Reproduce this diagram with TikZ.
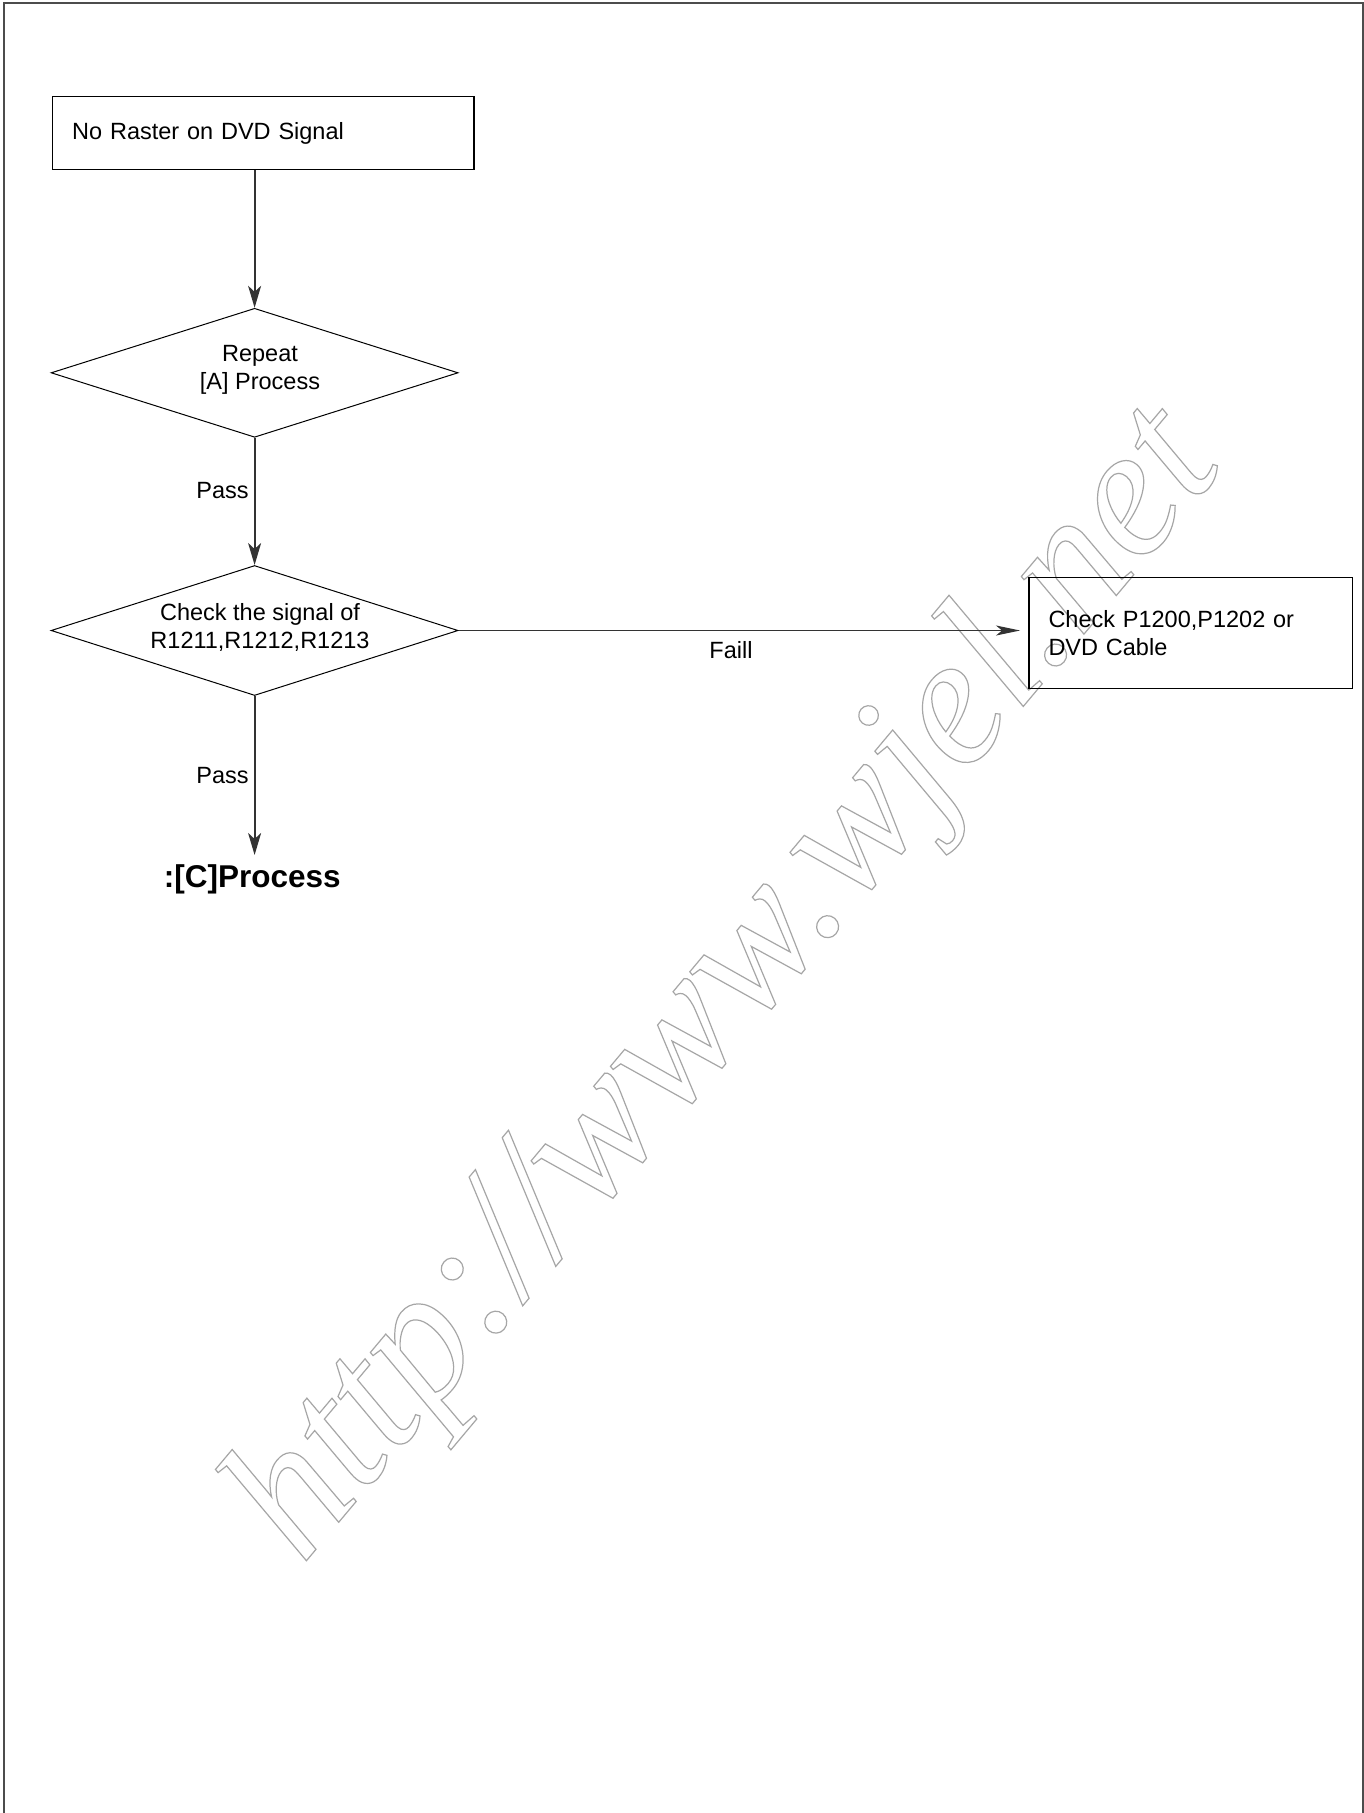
\documentclass[tikz,border=0pt]{standalone}
\usepackage{fontspec}
\setmainfont{Liberation Sans}
\newfontfamily\wmfont{Liberation Serif}
\usetikzlibrary{shapes.geometric,arrows.meta}
\newcommand\dtxt{\fontsize{23.5}{28}\selectfont}
\begin{document}
\begin{tikzpicture}[x=1pt,y=-1pt,
  box/.style={draw=black, line width=1.3pt, rectangle, inner xsep=19.5pt, inner ysep=0pt, align=left, font=\dtxt},
  dia/.style={draw=black, line width=1pt, diamond, inner sep=0pt},
  arr/.style={draw=black!80, line width=1.8pt, -{Stealth[length=22pt,width=13pt,inset=6pt]}},
  lbl/.style={font=\dtxt, inner sep=0pt},
  frame/.style={line width=2pt, draw=black!70}]
\useasboundingbox (0,0) rectangle (1364,1813);
\fill[white] (0,0) rectangle (1364,1813);
% page frame (open at the bottom)
\draw[frame] (4,1813) -- (4,3) -- (1362.5,3) -- (1362.5,1813);
% watermark
\node[rotate=50, anchor=base west, inner sep=0pt, text=black!35,
      font=\wmfont\itshape\fontsize{185}{185}\selectfont] (wm) at (302,1566)
      {\special{pdf:literal direct 1 Tr 1.2 w}http://www.wjel.net\special{pdf:literal direct 0 Tr}};
% nodes
\node[box, minimum width=421.3pt, minimum height=72.6pt, text width=382.3pt] (start) at (263.35,133) {No Raster on DVD Signal};
\node[dia, minimum width=407pt, minimum height=129pt] (d1) at (254.6,372.8) {};
\node[lbl, align=center] (t1) at (260,369.8) {Repeat\\{[A]} Process};
\node[dia, minimum width=407pt, minimum height=130pt] (d2) at (254.6,630.5) {};
\node[lbl, align=center] (t2) at (260,627.2) {Check the signal of\\R1211,R1212,R1213};
\node[box, minimum width=323.7pt, minimum height=110.4pt, text width=284.7pt] (fail) at (1190.85,633) {Check P1200,P1202 or\\DVD Cable};
\node[font=\fontsize{31.5}{36}\selectfont\bfseries, inner sep=0pt, anchor=base] (cproc) at (252.2,887) {:[C]Process};
% connectors
\draw[arr] (d1.north |- start.south) -- (d1.north);
\draw[arr] (d1.south) -- node[lbl, pos=0.48, anchor=base east, xshift=-5pt] {Pass} (d2.north);
\draw[arr, shorten >=9pt] (d2.south) -- node[lbl, pos=0.52, anchor=base east, xshift=-5pt] {Pass} (d2.south |- cproc.north);
\draw[arr, -{Stealth[length=24pt,width=10pt,inset=6pt]}, shorten >=8.3pt] (d2.east) -- node[lbl, pos=0.478, anchor=base, yshift=-27.7pt] {Faill} (d2.east -| fail.west);
\end{tikzpicture}
\end{document}
